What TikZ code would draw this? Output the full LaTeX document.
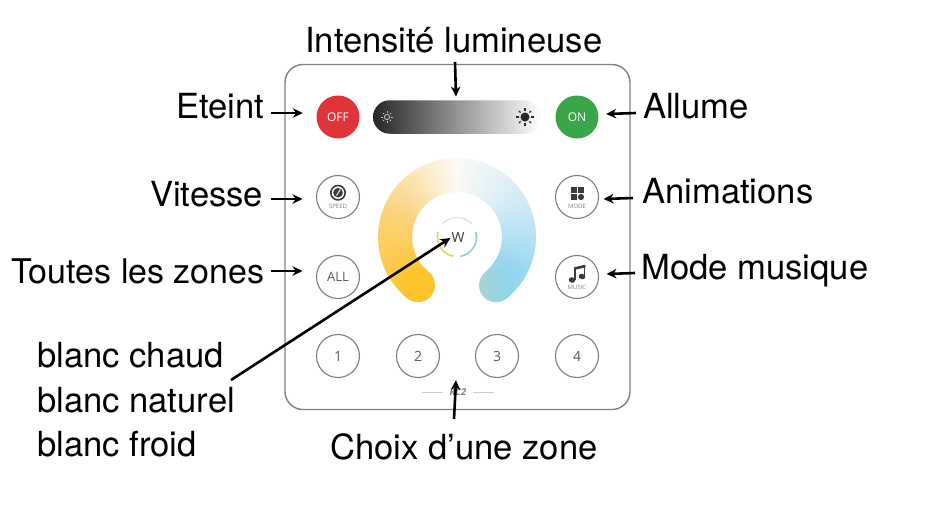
\documentclass[tikz,border=0pt]{standalone}
\usepackage{fontspec}
\setmainfont{TeX Gyre Heros}
\newfontfamily\btnfont{Open Sans}
\usetikzlibrary{arrows.meta}
\definecolor{ringa}{HTML}{FFC42C}
\definecolor{ringb}{HTML}{FAD27A}
\definecolor{ringc}{HTML}{FBFAF6}
\definecolor{ringd}{HTML}{D2EBF6}
\definecolor{ringe}{HTML}{96D7F0}
\definecolor{ringf}{HTML}{9CD6E4}
\definecolor{capl}{HTML}{A6D4D2}
\definecolor{capr}{HTML}{8FD5F0}
\definecolor{btnline}{HTML}{7C7C7C}
\definecolor{btntext}{HTML}{5C5C5C}
\definecolor{icondark}{HTML}{3A3A3A}
\tikzset{
  label text/.style={anchor=base west,inner sep=0pt,font=\fontsize{34.6}{36}\selectfont,text=black},
  round btn/.style={circle,draw=btnline,line width=1.1pt,minimum size=43pt,inner sep=0pt,fill=white,text=btntext,font=\btnfont\fontsize{13}{13}\selectfont},
  num btn/.style={round btn,font=\btnfont\fontsize{14}{14}\selectfont},
  solid btn/.style={circle,minimum size=43pt,inner sep=0pt,text=white,font=\btnfont\fontsize{12}{12}\selectfont},
  tiny text/.style={inner sep=0pt,text=gray,font=\btnfont\fontsize{6}{6}\selectfont},
  arr/.style={draw=black,line width=2.6pt,-{Stealth[length=10pt,width=9.5pt]}},
  ring seg/.style={line width=34pt,line cap=butt}
}
\begin{document}
\begin{tikzpicture}[x=1pt,y=-1pt]
\useasboundingbox (0,0) rectangle (937,520);
\fill[white] (0,0) rectangle (937,520);
% panel
\draw[draw=gray,line width=1.4pt,rounded corners=18pt] (285,64.5) rectangle (630,409.5);
% buttons
\node[solid btn,fill={rgb,255:red,224;green,52;blue,56}] (off) at (338,117) {OFF};
\node[solid btn,fill={rgb,255:red,58;green,165;blue,73}] (on) at (577,117) {ON};
\node[round btn] (speed) at (338,197) {};
\node[round btn] (all) at (338,277) {ALL};
\node[round btn] (mode) at (577,197) {};
\node[round btn] (music) at (577,277) {};
\node[num btn] (one) at (338,356) {1};
\node[num btn] (two) at (418,356) {2};
\node[num btn] (three) at (497,356) {3};
\node[num btn] (four) at (577,356) {4};
% brightness bar
\node[minimum width=168pt,minimum height=33.5pt,inner sep=0pt,rounded corners=16.7pt,
  left color=black!85,right color=white,middle color=black!42] (bar) at (457,117) {};
\draw[black!25,line width=0.9pt] (387,117) circle (2.6);
\foreach \a in {0,45,...,315}
  \draw[black!25,line width=0.8pt] ({387+4.2*cos(\a)},{117+4.2*sin(\a)}) -- ({387+5.6*cos(\a)},{117+5.6*sin(\a)});
\fill[black!85] (525,117) circle (4.5);
\foreach \a in {0,45,...,315}
  \draw[black!85,line width=1.1pt] ({525+6.2*cos(\a)},{117+6.2*sin(\a)}) -- ({525+8.6*cos(\a)},{117+8.6*sin(\a)});
% speed icon
\draw[icondark,line width=1.6pt] (338,192.7) circle (7.2);
\fill[icondark] (338,192.7) circle (4.8);
\draw[white,line width=0.9pt] (336.5,195.5) -- (340.2,189.5);
\node[tiny text] (speedtxt) at (338,206) {SPEED};
% mode icon
\fill[icondark] (570.5,186.5) rectangle (576.5,192.5);
\fill[icondark] (578,186.5) rectangle (584,192.5);
\fill[icondark] (570.5,194) rectangle (576.5,200);
\fill[icondark] (581,197) circle (3.1);
\node[tiny text] (modetxt) at (577,206) {MODE};
% music icon
\fill[icondark,rotate around={-15:(572,280)}] (572,280) ellipse (3.4 and 2.7);
\fill[icondark,rotate around={-15:(582,276.5)}] (582,276.5) ellipse (3.4 and 2.7);
\draw[icondark,line width=1.3pt] (574.9,280) -- (574.9,268);
\draw[icondark,line width=1.3pt] (584.8,276.5) -- (584.8,265.5);
\draw[icondark,line width=2.6pt] (574.3,268.6) -- (585.4,266);
\node[tiny text] (musictxt) at (577,287) {MUSIC};
% colour ring
\foreach \i in {0,...,140}{
  \pgfmathsetmacro\a{129+2*\i}
  \pgfmathsetmacro\b{\a+2.6}
  \ifnum\i<35 \pgfmathtruncatemacro\p{100*\i/35}\colorlet{segc}{ringb!\p!ringa}
  \else\ifnum\i<70 \pgfmathtruncatemacro\p{100*(\i-35)/35}\colorlet{segc}{ringc!\p!ringb}
  \else\ifnum\i<100 \pgfmathtruncatemacro\p{100*(\i-70)/30}\colorlet{segc}{ringd!\p!ringc}
  \else\ifnum\i<130 \pgfmathtruncatemacro\p{100*(\i-100)/30}\colorlet{segc}{ringe!\p!ringd}
  \else \pgfmathtruncatemacro\p{100*(\i-130)/10}\colorlet{segc}{ringf!\p!ringe}
  \fi\fi\fi\fi
  \draw[ring seg,draw=segc] ({457+62*cos(\a)},{237+62*sin(\a)}) -- ({457+62*cos(\b)},{237+62*sin(\b)});
}
\fill[ringa] ({457+62*cos(129)},{237+62*sin(129)}) circle (17);
\shade[left color=capl,right color=capr] ({457+62*cos(411)},{237+62*sin(411)}) circle (17);
% white key
\draw[line width=1.6pt,draw={rgb,255:red,228;green,212;blue,96}] plot[smooth,domain=100:195,samples=20] ({457+19.5*cos(\x)},{237+19.5*sin(\x)});
\draw[line width=1.6pt,draw={rgb,255:red,140;green,208;blue,214}] plot[smooth,domain=-15:80,samples=20] ({457+19.5*cos(\x)},{237+19.5*sin(\x)});
\draw[line width=1.2pt,draw=black!12] plot[smooth,domain=222:318,samples=20] ({457+19.5*cos(\x)},{237+19.5*sin(\x)});
\node[inner sep=0pt,text=icondark,font=\btnfont\fontsize{14}{14}\selectfont] (w) at (458,237) {W};
% RC2
\node[inner sep=0pt,text=gray,font=\btnfont\bfseries\itshape\fontsize{9.5}{9.5}\selectfont] (rc) at (458,392) {RC2};
\draw[black!20,line width=0.7pt] (422,392) -- (443,392);
\draw[black!20,line width=0.7pt] (473,392) -- (494,392);
% labels
\node[label text] (lint) at (305,52) {Intensité lumineuse};
\node[label text] (leteint) at (176,118) {Eteint};
\node[label text] (lallume) at (643,118) {Allume};
\node[label text] (lvit) at (150,206) {Vitesse};
\node[label text] (lanim) at (642,203) {Animations};
\node[label text] (lmus) at (641,279) {Mode musique};
\node[label text,font=\fontsize{34}{36}\selectfont] (ltout) at (11,283) {Toutes les zones};
\node[label text] (lchaud) at (37,367) {blanc chaud};
\node[label text] (lnat) at (37,412) {blanc naturel};
\node[label text] (lfroid) at (37,456) {blanc froid};
\node[label text] (lchoix) at (330,459) {Choix d’une zone};
% connector tails
\coordinate (tint) at (455,62);
\coordinate (teteint) at (271,113);
\coordinate (tallume) at (636,113);
\coordinate (tvit) at (271,199);
\coordinate (tanim) at (633,198);
\coordinate (ttout) at (271,271);
\coordinate (tmus) at (635,273);
\coordinate (tchoix) at (454,419);
\coordinate (tnat) at (231,380);
% connectors
\draw[arr] (tint) -- ([xshift=-1pt,yshift=3.5pt]bar.north);
\draw[arr] (teteint) -- ([xshift=-13.5pt,yshift=4pt]off.west);
\draw[arr] (tallume) -- ([xshift=7.5pt,yshift=3pt]on.east);
\draw[arr] (tvit) -- ([xshift=-13.5pt,yshift=-2pt]speed.west);
\draw[arr] (tanim) -- ([xshift=4.5pt,yshift=-2pt]mode.east);
\draw[arr] (ttout) -- ([xshift=-13.5pt,yshift=6pt]all.west);
\draw[arr] (tmus) -- ([xshift=7.5pt,yshift=3pt]music.east);
\draw[arr] (tchoix) -- ([xshift=38pt,yshift=-2pt]two.south);
\draw[arr] (tnat) -- ([xshift=-1pt,yshift=-1pt]w.west);
\end{tikzpicture}
\end{document}
